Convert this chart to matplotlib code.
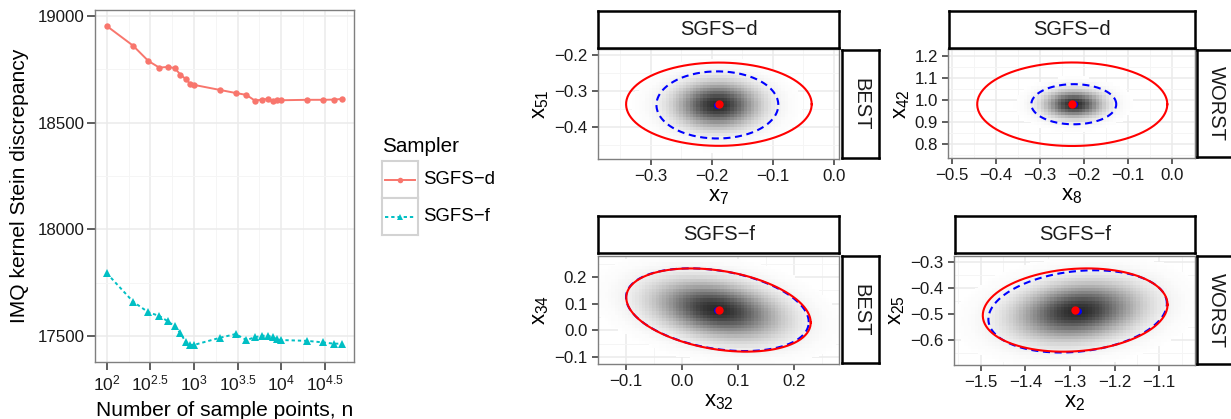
import numpy as np
import matplotlib
matplotlib.use('Agg')
import matplotlib.pyplot as plt
from matplotlib.colors import LinearSegmentedColormap
from matplotlib.ticker import FixedLocator, FixedFormatter

plt.rcParams['font.family'] = ['Liberation Sans', 'DejaVu Sans']
plt.rcParams['mathtext.fontset'] = 'custom'
plt.rcParams['mathtext.rm'] = 'Liberation Sans'
plt.rcParams['mathtext.it'] = 'Liberation Sans:italic'
plt.rcParams['mathtext.bf'] = 'Liberation Sans:bold'

# ---- left panel data: IMQ KSD vs number of sample points
n_points = [100, 200, 300, 400, 500, 600, 700, 800, 900, 1000,
            2000, 3000, 4000, 5000, 6000, 7000, 8000, 9000, 10000,
            20000, 30000, 40000, 50000]
ksd_sgfs_d = [18953, 18861, 18789, 18758, 18761, 18756, 18725, 18705, 18683, 18677,
              18653, 18639, 18630, 18603, 18608, 18611, 18603, 18604, 18605,
              18607, 18607, 18608, 18611]
ksd_sgfs_f = [17794, 17661, 17611, 17594, 17569, 17546, 17513, 17473, 17458, 17458,
              17492, 17509, 17481, 17494, 17501, 17501, 17494, 17484, 17481,
              17477, 17470, 17464, 17464]
samplers = ['SGFS\u2212d', 'SGFS\u2212f']
x_tick_exps = [2, 2.5, 3, 3.5, 4, 4.5]
x_tick_labels = [r'$\mathregular{10^{2}}$', r'$\mathregular{10^{2.5}}$', r'$\mathregular{10^{3}}$',
                 r'$\mathregular{10^{3.5}}$', r'$\mathregular{10^{4}}$', r'$\mathregular{10^{4.5}}$']
y_ticks_ksd = [17500, 18000, 18500, 19000]

# ---- right facets: (sampler, best/worst, coordinates)
facet_titles = ['SGFS\u2212d', 'SGFS\u2212d', 'SGFS\u2212f', 'SGFS\u2212f']
facet_rows = ['BEST', 'WORST', 'BEST', 'WORST']
facet_xlabels = [r'$\mathregular{x_{7}}$', r'$\mathregular{x_{8}}$',
                 r'$\mathregular{x_{32}}$', r'$\mathregular{x_{2}}$']
facet_ylabels = [r'$\mathregular{x_{51}}$', r'$\mathregular{x_{42}}$',
                 r'$\mathregular{x_{34}}$', r'$\mathregular{x_{25}}$']
facet_xticks = [[-0.3, -0.2, -0.1, 0.0],
                [-0.5, -0.4, -0.3, -0.2, -0.1, 0.0],
                [-0.1, 0.0, 0.1, 0.2],
                [-1.5, -1.4, -1.3, -1.2, -1.1]]
facet_yticks = [[-0.4, -0.3, -0.2],
                [0.8, 0.9, 1.0, 1.1, 1.2],
                [-0.1, 0.0, 0.1, 0.2],
                [-0.6, -0.5, -0.4, -0.3]]
facet_xlim = [(-0.387, 0.0087), (-0.5077, 0.053), (-0.15, 0.281), (-1.56, -1.02)]
facet_ylim = [(-0.4897, -0.184), (0.7347, 1.2306), (-0.126, 0.28), (-0.697, -0.277)]

# red (solid) ellipse: center, half extents, correlation
true_center = [(-0.1885, -0.337), (-0.226, 0.980), (0.0655, 0.0763), (-1.2885, -0.4858)]
true_half = [(0.152, 0.116), (0.216, 0.1905), (0.1645, 0.156), (0.207, 0.160)]
true_rho = [0.0, 0.0, -0.30, 0.13]
# blue (dashed) ellipse: sample mean / covariance
samp_center = [(-0.191, -0.339), (-0.2225, 0.980), (0.0635, 0.0775), (-1.283, -0.491)]
samp_half = [(0.0998, 0.0935), (0.0965, 0.0915), (0.163, 0.155), (0.200, 0.158)]
samp_rho = [0.0, 0.0, -0.30, 0.19]

W, H = 1231, 419
fig = plt.figure(figsize=(W / 100, H / 100), dpi=100)


def px_axes(x0, y0, x1, y1):
    return fig.add_axes([x0 / W, 1 - y1 / H, (x1 - x0) / W, (y1 - y0) / H])


def style_panel(ax, tick_len, pad):
    for s in ax.spines.values():
        s.set_color('#7F7F7F')
        s.set_linewidth(1.0)
    ax.grid(True, which='major', color='#EBEBEB', lw=1.1)
    ax.grid(True, which='minor', color='#F5F5F5', lw=0.7)
    ax.set_axisbelow(True)
    ax.tick_params(which='major', length=tick_len, width=1.1, color='#333333',
                   labelsize=12.2, labelcolor='#1A1A1A', pad=pad)
    ax.tick_params(which='minor', length=0)


def ellipse_xy(center, half, rho, num=200):
    hx, hy = half
    cov = np.array([[hx * hx, rho * hx * hy], [rho * hx * hy, hy * hy]])
    L = np.linalg.cholesky(cov)
    t = np.linspace(0, 2 * np.pi, num)
    pts = L @ np.vstack([np.cos(t), np.sin(t)])
    return pts[0] + center[0], pts[1] + center[1]


# ---------------- left panel ----------------
ax = px_axes(95, 10, 354, 362)
ax.plot(n_points, ksd_sgfs_d, color='#F8766D', lw=1.4, marker='o', ms=4.6, mew=0, zorder=3)
ax.plot(n_points, ksd_sgfs_f, color='#00BFC4', lw=1.4, ls=(0, (1.7, 1.5)),
        marker='^', ms=5.5, mew=0, zorder=3)
ax.set_xscale('log')
ax.set_xlim(10 ** 1.865, 10 ** 4.835)
ax.set_ylim(17378, 19028)
ax.xaxis.set_major_locator(FixedLocator([10 ** e for e in x_tick_exps]))
ax.xaxis.set_major_formatter(FixedFormatter(x_tick_labels))
ax.xaxis.set_minor_locator(FixedLocator([10 ** (e + 0.25) for e in x_tick_exps]))
ax.xaxis.set_minor_formatter(FixedFormatter([''] * len(x_tick_exps)))
ax.set_yticks(y_ticks_ksd)
ax.set_yticks([17750, 18250, 18750], minor=True)
style_panel(ax, 5.5, 2)
ax.tick_params(axis='x', pad=3, labelsize=12.6)
ax.set_ylabel('IMQ kernel Stein discrepancy', fontsize=15.1, labelpad=6)
ax.set_xlabel('Number of sample points, n', fontsize=15.1, labelpad=5)

# legend drawn as ggplot-like keys
fig.text(382.3 / W, 1 - 146.7 / H, 'Sampler', fontsize=14.9, va='center', ha='left')
key_styles = [dict(color='#F8766D', ls='-', marker='o', ms=4),
              dict(color='#00BFC4', ls=(0, (1.7, 1.5)), marker='^', ms=5)]
key_rows = [(160.7, 198.3), (198.3, 235.0)]
for name, st, (y0, y1) in zip(samplers, key_styles, key_rows):
    kax = px_axes(381.7, y0, 418.3, y1)
    kax.set_xlim(0, 1)
    kax.set_ylim(0, 1)
    kax.set_xticks([])
    kax.set_yticks([])
    for s in kax.spines.values():
        s.set_color('#D3D3D3')
        s.set_linewidth(1.5)
    kax.plot([0.1, 0.9], [0.5, 0.5], lw=1.4, color=st['color'], ls=st['ls'])
    kax.plot([0.5], [0.5], color=st['color'], marker=st['marker'], ms=st['ms'], mew=0, ls='none')
    fig.text(422.7 / W, 1 - (y0 + y1) / 2 / H, name, fontsize=13.4, va='center', ha='left')

# ---------------- right facets ----------------
panel_px = [(597.7, 49.3, 839.3, 159.0), (948.3, 49.3, 1195.0, 158.0),
            (597.7, 255.7, 839.3, 364.0), (954.0, 255.7, 1195.0, 365.0)]
strip_y = [(11, 47.7), (11, 47.7), (216, 252.7), (216, 252.7)]
bin_cmap = LinearSegmentedColormap.from_list('bins', ['#FFFFFF', '#2A2A2A'])

for i in range(4):
    x0, y0, x1, y1 = panel_px[i]
    ax = px_axes(x0, y0, x1, y1)
    xlim, ylim = facet_xlim[i], facet_ylim[i]

    # binned density of the sample
    nx = int((x1 - x0) / 3.4)
    ny = int((y1 - y0) / 3.2)
    xe = np.linspace(xlim[0], xlim[1], nx + 1)
    ye = np.linspace(ylim[0], ylim[1], ny + 1)
    xc, yc = np.meshgrid((xe[:-1] + xe[1:]) / 2, (ye[:-1] + ye[1:]) / 2)
    hx, hy = samp_half[i]
    sx, sy, r = hx / 2.3, hy / 2.3, samp_rho[i]
    dx = (xc - samp_center[i][0]) / sx
    dy = (yc - samp_center[i][1]) / sy
    q = (dx * dx - 2 * r * dx * dy + dy * dy) / (1 - r * r)
    dens = np.exp(-0.5 * q)
    dens = np.ma.masked_less(dens, 0.006)
    ax.pcolormesh(xe, ye, dens, cmap=bin_cmap, vmin=0, vmax=1, zorder=1.5)

    ex, ey = ellipse_xy(true_center[i], true_half[i], true_rho[i])
    ax.plot(ex, ey, color='#FF0000', lw=1.5, zorder=3)
    bx, by = ellipse_xy(samp_center[i], samp_half[i], samp_rho[i])
    ax.plot(bx, by, color='#0000FF', lw=1.5, ls=(0, (3.4, 2.2)), zorder=2.8)
    ax.plot([samp_center[i][0]], [samp_center[i][1]], 'o', color='#0000FF', ms=5, mew=0, zorder=3.5)
    ax.plot([true_center[i][0]], [true_center[i][1]], 'o', color='#FF0000', ms=6, mew=0, zorder=4)

    xt, yt = facet_xticks[i], facet_yticks[i]
    ax.set_xticks(xt)
    ax.set_xticklabels([f'{v:.1f}'.replace('-', '\u2212') for v in xt])
    ax.set_yticks(yt)
    ax.set_yticklabels([f'{v:.1f}'.replace('-', '\u2212') for v in yt])
    ax.set_xticks([v + (xt[1] - xt[0]) / 2 for v in [xt[0] - (xt[1] - xt[0])] + xt], minor=True)
    ax.set_yticks([v + (yt[1] - yt[0]) / 2 for v in [yt[0] - (yt[1] - yt[0])] + yt], minor=True)
    ax.set_xlim(xlim)
    ax.set_ylim(ylim)
    style_panel(ax, 4.0, 3.5)
    ax.set_xlabel(facet_xlabels[i], fontsize=16, labelpad=1)
    ax.set_ylabel(facet_ylabels[i], fontsize=16, labelpad=2)

    # strips
    sy0, sy1 = strip_y[i]
    sax = px_axes(x0 + 0.6, sy0, x1, sy1)
    sax.set_xticks([])
    sax.set_yticks([])
    for s in sax.spines.values():
        s.set_color('black')
        s.set_linewidth(1.8)
    sax.text(0.5, 0.5, facet_titles[i], transform=sax.transAxes, ha='center', va='center',
             fontsize=14.5, color='#1A1A1A')
    rax = px_axes(x1 + 2.3, y0 + 0.7, x1 + 40, y1 - 0.7)
    rax.set_xticks([])
    rax.set_yticks([])
    for s in rax.spines.values():
        s.set_color('black')
        s.set_linewidth(1.8)
    rax.text(0.5, 0.5, facet_rows[i], transform=rax.transAxes, ha='center', va='center',
             rotation=-90, fontsize=14.5, color='#1A1A1A')

fig.savefig('out.png', dpi=100)
